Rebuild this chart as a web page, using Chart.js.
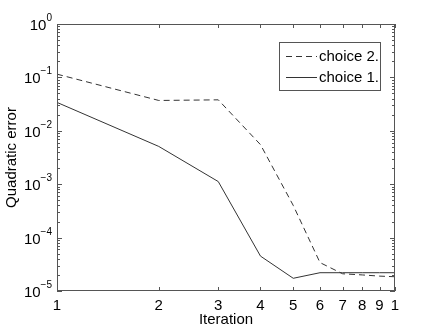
<!DOCTYPE html>
<html>
<head>
<meta charset="utf-8">
<script src="https://cdn.jsdelivr.net/npm/chart.js@4"></script>
<style>
  html, body { margin: 0; padding: 0; background: #fff; }
  #wrap { width: 436px; height: 330px; }
</style>
</head>
<body>
<div id="wrap"><canvas id="errChart" width="436" height="330"></canvas></div>
<script>
const iterations = [1, 2, 3, 4, 5, 6, 7, 8, 9, 10];
const xTickLabels = ['1', '2', '3', '4', '5', '6', '7', '8', '9', '1'];
const choice2 = [0.115, 0.037, 0.038, 0.0055, 0.0004, 3.4e-5, 2.1e-5, 2.0e-5, 1.9e-5, 1.85e-5];
const choice1 = [0.034, 0.0051, 0.00112, 4.5e-5, 1.73e-5, 2.2e-5, 2.2e-5, 2.2e-5, 2.2e-5, 2.2e-5];
const yExponents = [0, -1, -2, -3, -4, -5];

const FONT = '"Liberation Sans", Arial, sans-serif';
const LINE = '#333';
const FRAME = '#555';

// frame, inward ticks, 10^k labels and the boxed legend
const matlabAxes = {
  id: 'matlabAxes',
  afterDraw(chart) {
    const ctx = chart.ctx;
    const area = chart.chartArea;
    const xs = chart.scales.x;
    const ys = chart.scales.y;
    ctx.save();
    ctx.strokeStyle = FRAME;
    ctx.lineWidth = 1;
    ctx.strokeRect(area.left + 0.5, area.top + 0.5, area.right - area.left - 1, area.bottom - area.top - 1);

    // x ticks, bottom and top
    ctx.beginPath();
    iterations.forEach(v => {
      const px = Math.round(xs.getPixelForValue(v)) + 0.5;
      ctx.moveTo(px, area.bottom);
      ctx.lineTo(px, area.bottom - 4);
      ctx.moveTo(px, area.top);
      ctx.lineTo(px, area.top + 4);
    });
    // y ticks, major and minor, left and right
    yExponents.forEach(e => {
      for (let m = 1; m <= 9; m++) {
        const v = m * Math.pow(10, e);
        if (v > 1.0001) continue;
        const py = Math.round(ys.getPixelForValue(v)) + 0.5;
        const len = m === 1 ? 5 : 3;
        ctx.moveTo(area.left, py);
        ctx.lineTo(area.left + len, py);
        ctx.moveTo(area.right, py);
        ctx.lineTo(area.right - len, py);
      }
    });
    ctx.stroke();

    // y labels with superscript exponent
    ctx.fillStyle = '#000';
    ctx.textBaseline = 'alphabetic';
    yExponents.forEach(e => {
      const py = ys.getPixelForValue(Math.pow(10, e));
      const exp = e === 0 ? '0' : '\u2212' + String(-e);
      ctx.font = '10px ' + FONT;
      const ew = ctx.measureText(exp).width;
      ctx.font = '15px ' + FONT;
      const bw = ctx.measureText('10').width;
      const right = area.left - 5;
      ctx.textAlign = 'left';
      ctx.fillText('10', right - ew - bw, py + 6);
      ctx.font = '10px ' + FONT;
      ctx.fillText(exp, right - ew, py - 3);
    });

    // legend
    const lx = 279, ly = 42, lw = 101, lh = 48;
    ctx.fillStyle = '#fff';
    ctx.fillRect(lx, ly, lw, lh);
    ctx.strokeStyle = FRAME;
    ctx.strokeRect(lx + 0.5, ly + 0.5, lw, lh);
    chart.data.datasets.forEach((ds, i) => {
      const cy = ly + 14 + i * 21;
      ctx.strokeStyle = ds.borderColor;
      ctx.setLineDash(ds.borderDash || []);
      ctx.beginPath();
      ctx.moveTo(lx + 7, cy + 0.5);
      ctx.lineTo(lx + 38, cy + 0.5);
      ctx.stroke();
      ctx.setLineDash([]);
      ctx.fillStyle = '#000';
      ctx.font = '15px ' + FONT;
      ctx.textAlign = 'left';
      ctx.textBaseline = 'middle';
      ctx.fillText(ds.label, lx + 40, cy + 1);
    });
    ctx.restore();
  }
};

new Chart(document.getElementById('errChart'), {
  type: 'line',
  data: {
    datasets: [
      {
        label: 'choice 2.',
        data: iterations.map((x, i) => ({ x: x, y: choice2[i] })),
        borderColor: LINE,
        borderWidth: 1,
        borderDash: [6, 4],
        pointRadius: 0,
        tension: 0
      },
      {
        label: 'choice 1.',
        data: iterations.map((x, i) => ({ x: x, y: choice1[i] })),
        borderColor: LINE,
        borderWidth: 1,
        pointRadius: 0,
        tension: 0
      }
    ]
  },
  options: {
    responsive: false,
    animation: false,
    layout: { padding: { top: 24, right: 41, left: 0, bottom: 0 } },
    plugins: { legend: { display: false }, tooltip: { enabled: false } },
    scales: {
      x: {
        type: 'logarithmic',
        min: 1,
        max: 10,
        afterBuildTicks: scale => { scale.ticks = iterations.map(v => ({ value: v })); },
        ticks: {
          autoSkip: false,
          maxRotation: 0,
          padding: 7,
          color: '#000',
          font: { family: FONT, size: 15, lineHeight: 1 },
          callback: (value, index) => xTickLabels[index]
        },
        grid: { display: false, drawTicks: false },
        border: { display: false },
        title: {
          display: true,
          text: 'Iteration',
          color: '#000',
          font: { family: FONT, size: 15, lineHeight: 1 },
          padding: { top: -8, bottom: 3 }
        }
      },
      y: {
        type: 'logarithmic',
        min: 1e-5,
        max: 1,
        ticks: { display: false },
        grid: { display: false, drawTicks: false },
        border: { display: false },
        title: {
          display: true,
          text: 'Quadratic error',
          color: '#000',
          font: { family: FONT, size: 15 },
          padding: { top: 3, bottom: 36 }
        }
      }
    }
  },
  plugins: [matlabAxes]
});
</script>
</body>
</html>
